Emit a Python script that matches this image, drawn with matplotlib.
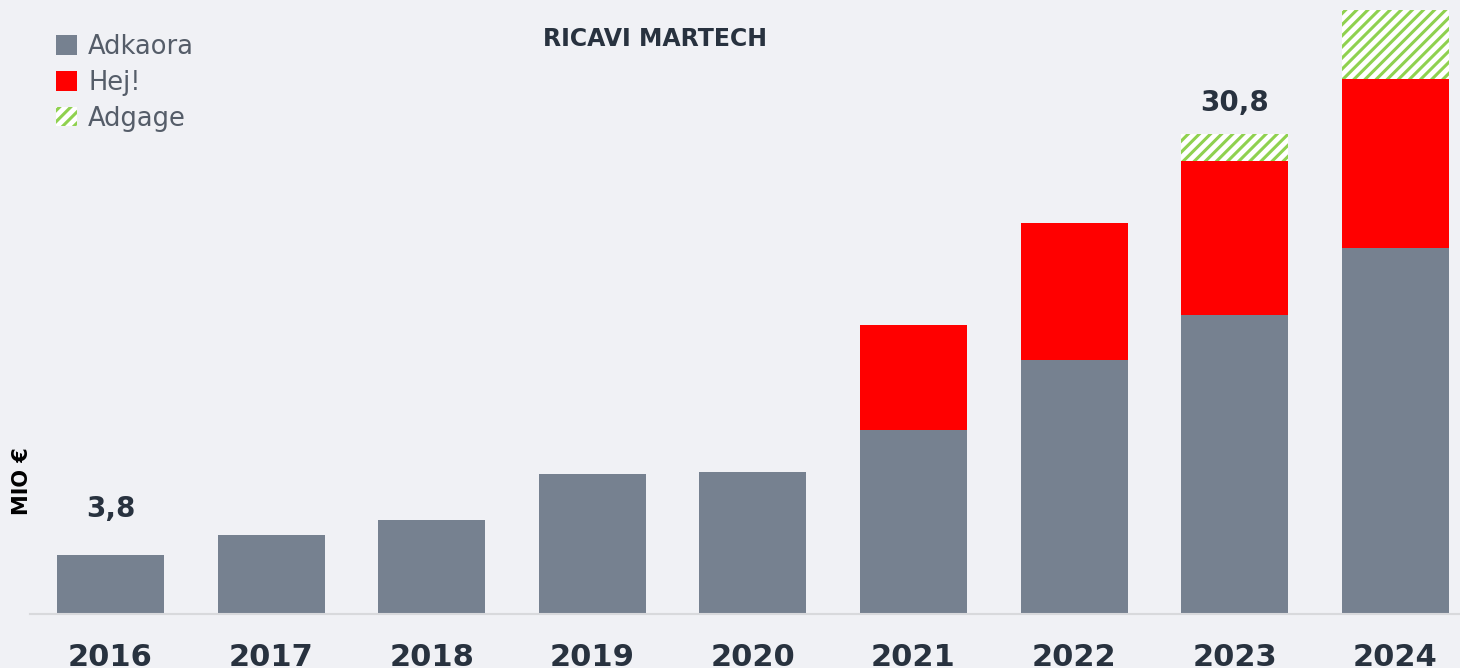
import numpy as np
import matplotlib as mpl
mpl.use('Agg')
import matplotlib.pyplot as plt

years = ['2016', '2017', '2018', '2019', '2020', '2021', '2022', '2023', '2024']
adkaora = [3.8, 5.07, 6.03, 8.99, 9.11, 11.81, 16.30, 19.19, 23.49]
hej = [0, 0, 0, 0, 0, 6.74, 8.80, 9.88, 10.85]
adgage = [0, 0, 0, 0, 0, 0, 0, 1.73, 4.43]
# labelled totals: (bar index, text, offset in points)
value_labels = [(0, '3,8', 33), (7, '30,8', 22)]

BG = '#f0f1f5'
DARK = '#28323f'
GREY = '#768190'
RED = '#ff0000'
GREEN = '#8fd14f'

plt.rcParams['hatch.linewidth'] = 2.2
plt.rcParams['font.family'] = ['DejaVu Sans']

fig = plt.figure(figsize=(14.6, 6.68), dpi=100, facecolor=BG)
ax = fig.add_axes([30 / 1460, 54 / 668, 1 - 30 / 1460, 614 / 668])
ax.set_facecolor(BG)

x = np.arange(len(years))
w = 0.666
b1 = ax.bar(x, adkaora, w, color=GREY, label='Adkaora')
b2 = ax.bar(x, hej, w, bottom=adkaora, color=RED, label='Hej!')
base = np.array(adkaora) + np.array(hej)
b3 = ax.bar(x, adgage, w, bottom=base, facecolor='white', edgecolor=GREEN,
            hatch='///', linewidth=0, label='Adgage')

totals = base + np.array(adgage)
for i, txt, off in value_labels:
    ax.annotate(txt, (x[i], totals[i]), xytext=(0, off), textcoords='offset points',
                ha='center', va='center', fontsize=20, fontweight='bold', color=DARK)

ax.set_xlim(-0.501, 8.403)
ax.set_ylim(0, 39.4)
ax.set_xticks(x)
ax.set_xticklabels(years, fontsize=22, fontweight='bold', color=DARK)
ax.tick_params(axis='x', length=0, pad=21)
ax.set_yticks([])
for s in ['left', 'right', 'top']:
    ax.spines[s].set_visible(False)
ax.spines['bottom'].set_color('#d8d9dc')
ax.spines['bottom'].set_linewidth(1.5)

fig.text(655 / 1460, 1 - 39 / 668, 'RICAVI MARTECH', ha='center', va='center',
         fontsize=17, fontweight='bold', color=DARK)
fig.text(22 / 1460, 1 - 481 / 668, 'MIO €', rotation=90, ha='center', va='center',
         fontsize=15, fontweight='bold', color='black')

leg = fig.legend(handles=[b1, b2, b3], loc='upper left',
                 bbox_to_anchor=(56 / 1460, 1 - 34 / 668), frameon=False,
                 fontsize=18.5, handlelength=0.8, handleheight=0.8,
                 handletextpad=0.45, labelspacing=0.38, borderpad=0, borderaxespad=0)
for t in leg.get_texts():
    t.set_color('#555d69')

plt.savefig('out.png', dpi=100, facecolor=BG)
